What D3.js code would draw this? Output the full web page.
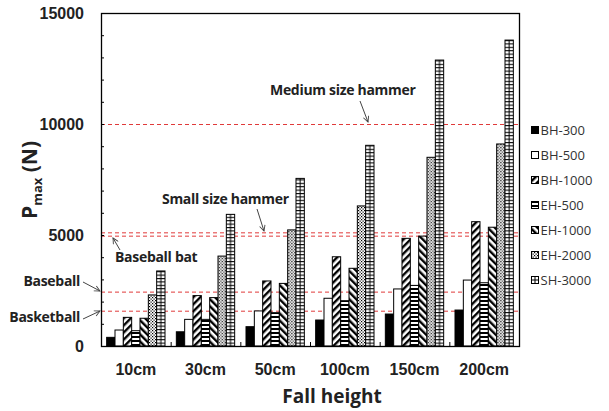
<!DOCTYPE html>
<html>
<head>
<meta charset="utf-8">
<script src="https://cdn.jsdelivr.net/npm/d3@7/dist/d3.min.js"></script>
<style>
  html, body { margin: 0; padding: 0; background: #fff; }
  svg { display: block; font-family: "Open Sans", "Noto Sans", sans-serif; }
</style>
</head>
<body>
<svg id="chart" width="609" height="411"></svg>
<script>
// Peak impact force by fall height, per impactor
const categories = ["10cm", "30cm", "50cm", "100cm", "150cm", "200cm"];
const seriesNames = ["BH-300", "BH-500", "BH-1000", "EH-500", "EH-1000", "EH-2000", "SH-3000"];
const bh300  = [390, 640, 870, 1170, 1440, 1620];
const bh500  = [720, 1200, 1580, 2150, 2570, 2970];
const bh1000 = [1290, 2270, 2930, 4020, 4850, 5600];
const eh500  = [690, 1200, 1500, 2040, 2730, 2850];
const eh1000 = [1250, 2180, 2820, 3500, 4950, 5350];
const eh2000 = [2300, 4050, 5230, 6310, 8500, 9100];
const sh3000 = [3380, 5930, 7550, 9040, 12880, 13780];
const seriesValues = [bh300, bh500, bh1000, eh500, eh1000, eh2000, sh3000];

// Reference force levels
const refLabels = ["Medium size hammer", "Small size hammer", "Baseball bat", "Baseball", "Basketball"];
const refValues = [10000, 5120, 4970, 2450, 1590];

const yTicks = [0, 5000, 10000, 15000];

const svg = d3.select("#chart");
const plot = { left: 101, right: 519, top: 13, bottom: 346 };

const x0 = d3.scaleBand().domain(categories).range([plot.left, plot.right]).padding(0);
const x1 = d3.scaleBand().domain(seriesNames).range([0, x0.bandwidth()]).paddingInner(0).paddingOuter(0.68);
const y = d3.scaleLinear().domain([0, 15000]).range([plot.bottom, plot.top]);

// ---- fill patterns ----
const defs = svg.append("defs");
function stripes(id, angle, period, thick) {
  const p = defs.append("pattern").attr("id", id).attr("patternUnits", "userSpaceOnUse")
    .attr("width", period).attr("height", period).attr("patternTransform", `rotate(${angle})`);
  p.append("rect").attr("width", period).attr("height", period).attr("fill", "#fff");
  p.append("rect").attr("width", thick).attr("height", period).attr("fill", "#000");
}
stripes("diagUp", 45, 5, 2.4);
stripes("diagDown", -45, 5, 2.4);
stripes("horiz", 90, 4, 2);

const dots = defs.append("pattern").attr("id", "dots").attr("patternUnits", "userSpaceOnUse")
  .attr("width", 3).attr("height", 3);
dots.append("rect").attr("width", 3).attr("height", 3).attr("fill", "#fff");
dots.append("rect").attr("x", 0).attr("y", 0).attr("width", 1.2).attr("height", 1.2).attr("fill", "#000");
dots.append("rect").attr("x", 1.5).attr("y", 1.5).attr("width", 1.2).attr("height", 1.2).attr("fill", "#000");

// grid cells for SH-3000: a centre divider and horizontal rungs,
// laid out in each group's local coordinates
const gridCell = 3.4;
const grid = defs.append("pattern").attr("id", "grid").attr("patternUnits", "userSpaceOnUse")
  .attr("x", 0).attr("y", plot.bottom)
  .attr("width", x0.step()).attr("height", gridCell);
grid.append("rect").attr("width", x0.step()).attr("height", gridCell).attr("fill", "#fff");
grid.append("line").attr("x1", 0).attr("x2", x0.step()).attr("y1", 0.5).attr("y2", 0.5)
  .attr("stroke", "#000").attr("stroke-width", 1);
const mid = x1("SH-3000") + x1.bandwidth() / 2;
grid.append("line").attr("x1", mid).attr("x2", mid).attr("y1", 0).attr("y2", gridCell)
  .attr("stroke", "#000").attr("stroke-width", 1);

const gridIcon = defs.append("pattern").attr("id", "gridIcon").attr("patternUnits", "objectBoundingBox")
  .attr("width", 1).attr("height", 1);
gridIcon.append("rect").attr("width", 8).attr("height", 8).attr("fill", "#fff");
gridIcon.append("path").attr("d", "M0,3.5H8M3.5,0V8").attr("stroke", "#000").attr("stroke-width", 1);

const fills = ["#000", "#fff", "url(#diagUp)", "url(#horiz)", "url(#diagDown)", "url(#dots)", "url(#grid)"];
const iconFills = ["#000", "#fff", "url(#diagUp)", "url(#horiz)", "url(#diagDown)", "url(#dots)", "url(#gridIcon)"];

// ---- reference lines ----
svg.append("g").selectAll("line").data(refValues).join("line")
  .attr("x1", plot.left).attr("x2", plot.right)
  .attr("y1", d => y(d) + 0.5).attr("y2", d => y(d) + 0.5)
  .attr("stroke", "#e03a3a").attr("stroke-width", 1).attr("stroke-dasharray", "4,3");

// ---- bars ----
const groups = svg.append("g").selectAll("g").data(categories).join("g")
  .attr("transform", c => `translate(${x0(c)},0)`);
groups.selectAll("rect").data((c, i) => seriesNames.map((s, k) => ({ s, k, v: seriesValues[k][i] })))
  .join("rect")
  .attr("x", d => x1(d.s))
  .attr("width", x1.bandwidth())
  .attr("y", d => y(d.v))
  .attr("height", d => y(0) - y(d.v))
  .attr("fill", d => fills[d.k])
  .attr("stroke", "#000").attr("stroke-width", 1);

// ---- axes ----
const yAxis = svg.append("g").attr("transform", `translate(${plot.left},0)`)
  .call(d3.axisLeft(y).tickValues(yTicks).tickSize(0).tickPadding(17).tickFormat(d3.format("d")));
yAxis.select(".domain").remove();
yAxis.selectAll("text").attr("font-size", 16).attr("font-weight", "bold").attr("fill", "#222");

const yMinor = svg.append("g").attr("transform", `translate(${plot.left},0)`)
  .call(d3.axisRight(y).ticks(15).tickSize(3).tickFormat(""));
yMinor.select(".domain").remove();
yMinor.selectAll("line").attr("stroke", "#000");

const xAxis = svg.append("g").attr("transform", `translate(0,${plot.bottom})`)
  .call(d3.axisBottom(x0).tickSize(0).tickPadding(18));
xAxis.select(".domain").remove();
xAxis.selectAll("text").attr("font-size", 16).attr("font-weight", "bold").attr("fill", "#222");

// separators between groups
svg.append("g").selectAll("line").data(categories.slice(1)).join("line")
  .attr("x1", c => x0(c) + 0.5).attr("x2", c => x0(c) + 0.5)
  .attr("y1", plot.bottom).attr("y2", plot.bottom - 4)
  .attr("stroke", "#000");

// frame
svg.append("rect").attr("x", plot.left + 0.5).attr("y", plot.top + 0.5)
  .attr("width", plot.right - plot.left).attr("height", plot.bottom - plot.top)
  .attr("fill", "none").attr("stroke", "#000").attr("stroke-width", 1.3);

// ---- axis titles ----
const yTitle = svg.append("text")
  .attr("transform", "translate(37,180) rotate(-90)")
  .attr("text-anchor", "middle").attr("font-weight", "bold").attr("fill", "#222").attr("font-size", 21);
yTitle.append("tspan").text("P");
yTitle.append("tspan").attr("font-size", 13).attr("dy", 5).text("max");
yTitle.append("tspan").attr("dy", -5).text(" (N)");

svg.append("text").attr("x", 332).attr("y", 403).attr("text-anchor", "middle")
  .attr("font-size", 19).attr("font-weight", "bold").attr("fill", "#222").text("Fall height");

// ---- legend ----
const legend = svg.append("g").selectAll("g").data(seriesNames).join("g")
  .attr("transform", (s, i) => `translate(531,${130 + i * 25})`);
legend.append("rect").attr("x", 0.5).attr("y", -3.5).attr("width", 7).attr("height", 7)
  .attr("fill", (s, i) => iconFills[i]).attr("stroke", "#000").attr("stroke-width", 1);
legend.append("text").attr("x", 9.5).attr("y", 0).attr("dy", "0.35em")
  .attr("font-size", 13).attr("fill", "#333").text(s => s);

// ---- annotations ----
defs.append("marker").attr("id", "arrow").attr("viewBox", "0 0 10 10")
  .attr("refX", 9).attr("refY", 5).attr("markerWidth", 7).attr("markerHeight", 7)
  .attr("orient", "auto-start-reverse")
  .append("path").attr("d", "M1,1L9,5L1,9").attr("fill", "none").attr("stroke", "#444").attr("stroke-width", 1.3);

const notes = [
  { text: refLabels[0], tx: 270, ty: 95, anchor: "start", a: [360, 101, 368, 122] },
  { text: refLabels[1], tx: 162, ty: 204, anchor: "start", a: [257, 209, 264, 231] },
  { text: refLabels[2], tx: 115, ty: 262, anchor: "start", a: [120, 250, 113, 238] },
  { text: refLabels[3], tx: 80, ty: 286, anchor: "end", a: [83, 282, 100, 291] },
  { text: refLabels[4], tx: 80, ty: 322, anchor: "end", a: [83, 319, 100, 311] }
];
svg.append("g").selectAll("text").data(notes).join("text")
  .attr("x", d => d.tx).attr("y", d => d.ty).attr("text-anchor", d => d.anchor)
  .attr("font-size", 14).attr("font-weight", "bold").attr("fill", "#222").attr("letter-spacing", -0.3)
  .text(d => d.text);
svg.append("g").selectAll("line").data(notes).join("line")
  .attr("x1", d => d.a[0]).attr("y1", d => d.a[1]).attr("x2", d => d.a[2]).attr("y2", d => d.a[3])
  .attr("stroke", "#444").attr("stroke-width", 1).attr("marker-end", "url(#arrow)");
</script>
</body>
</html>
